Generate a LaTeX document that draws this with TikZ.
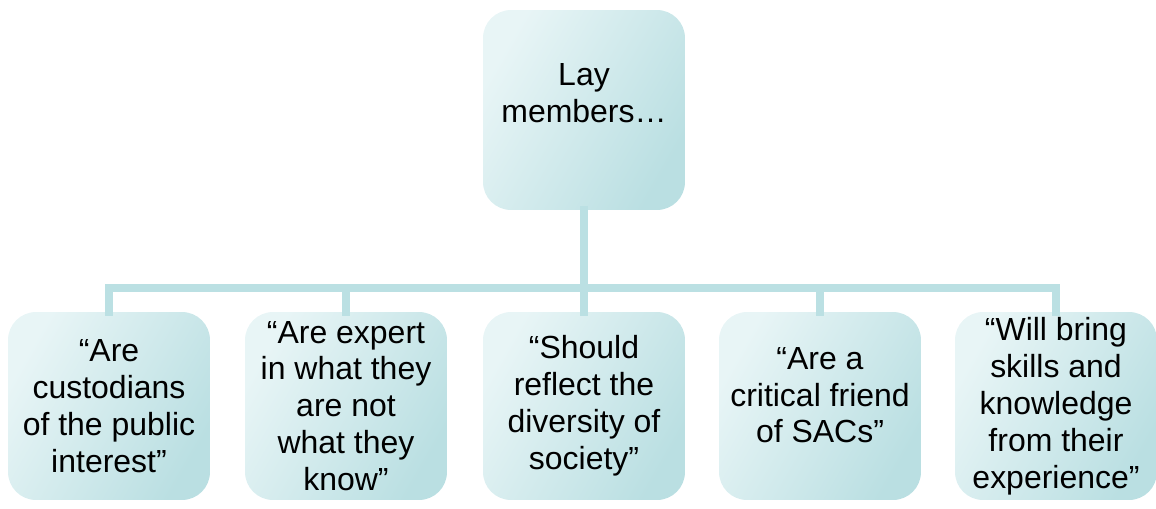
\documentclass[tikz,border=0pt]{standalone}
\usepackage{fontspec}
\setmainfont{Liberation Sans}
\definecolor{boxlight}{RGB}{232,245,246}
\definecolor{boxdark}{RGB}{186,223,226}
\definecolor{linkcol}{RGB}{187,224,227}
\tikzset{
	card/.style={rounded corners=0.56cm, left color=boxlight, right color=boxdark, shading angle=60,
		minimum width=4.04cm, minimum height=3.76cm, align=center, inner sep=0pt,
		font=\fontsize{18.2pt}{21pt}\selectfont},
	link/.style={draw=linkcol, line width=0.16cm, line cap=rect}
}
\begin{document}
\begin{tikzpicture}[x=0.02cm,y=-0.02cm]
		\useasboundingbox (0,0) rectangle (1156,508);
		\node[card, minimum height=4cm] (lay) at(584,110) {Lay\\members…\\[-0.06cm]\mbox{}};
		\node[card] (c1) at(109,406) {“Are\\custodians\\of the public\\interest”};
		\node[card] (c2) at(346,406) {“Are expert\\in what they\\are not\\what they\\know”};
		\node[card] (c3) at(584,406) {“Should\\reflect the\\diversity of\\society”};
		\node[card] (c4) at(820,406) {“Are a\\critical friend\\of SACs”\\[-0.3cm]\mbox{}};
		\node[card] (c5) at(1056,406) {“Will bring\\skills and\\knowledge\\from their\\experience”};
		\coordinate (bus) at(584,288);
		\draw[link] (lay) -- (lay |- bus);
		\draw[link] (c1 |- bus) -- (c5 |- bus);
		\foreach \i in {1,...,5}
			\draw[link] (c\i |- bus) -- (c\i);
	\end{tikzpicture}
\end{document}
